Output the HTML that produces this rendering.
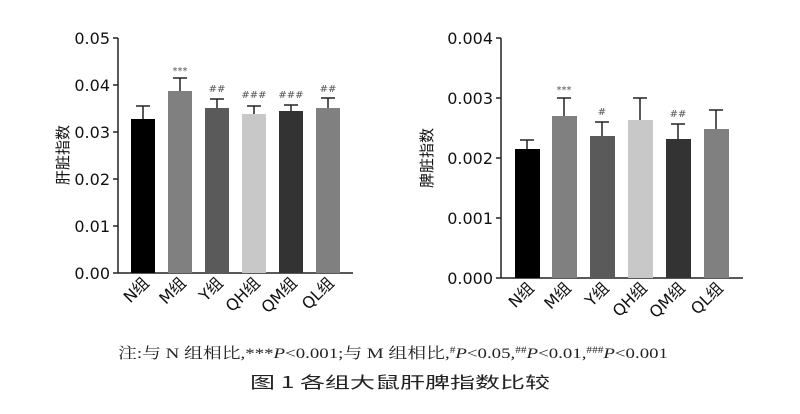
<!DOCTYPE html>
<html><head><meta charset="utf-8"><style>
body{margin:0;background:#fff;}
svg text{font-family:"DejaVu Sans","Liberation Sans","Noto Sans CJK SC",sans-serif;}
.cap{font-family:"Liberation Serif","Noto Serif CJK SC",serif !important;}
</style></head><body>
<svg width="800" height="409" viewBox="0 0 800 409" xmlns="http://www.w3.org/2000/svg">
<rect width="800" height="409" fill="#fff"/>
<g stroke="#222" stroke-width="1.5" fill="none">
<line x1="118" y1="38" x2="118" y2="273"/>
<line x1="118" y1="273" x2="353" y2="273"/>
<line x1="113" y1="38" x2="118" y2="38"/><line x1="113" y1="85" x2="118" y2="85"/><line x1="113" y1="132" x2="118" y2="132"/><line x1="113" y1="179" x2="118" y2="179"/><line x1="113" y1="226" x2="118" y2="226"/><line x1="113" y1="273" x2="118" y2="273"/>
</g>
<g font-size="16" fill="#111" text-anchor="end">
<text x="110" y="44">0.05</text><text x="110" y="91">0.04</text><text x="110" y="138">0.03</text><text x="110" y="185">0.02</text><text x="110" y="232">0.01</text><text x="110" y="279">0.00</text>
</g>
<text transform="translate(68,155) rotate(-90)" font-size="15" text-anchor="middle" fill="#111">肝脏指数</text>
<rect x="131" y="119" width="24" height="154" fill="#000"/>
<rect x="168" y="91" width="24" height="182" fill="#808080"/>
<rect x="205" y="108" width="24" height="165" fill="#5a5a5a"/>
<rect x="242" y="114" width="24" height="159" fill="#c8c8c8"/>
<rect x="279" y="111" width="24" height="162" fill="#333"/>
<rect x="316" y="108" width="24" height="165" fill="#808080"/>
<g stroke="#222" stroke-width="1.5">
<line x1="143" y1="119" x2="143" y2="106"/><line x1="136" y1="106" x2="150" y2="106"/>
<line x1="180" y1="91" x2="180" y2="78"/><line x1="173" y1="78" x2="187" y2="78"/>
<line x1="217" y1="108" x2="217" y2="99"/><line x1="210" y1="99" x2="224" y2="99"/>
<line x1="254" y1="114" x2="254" y2="106"/><line x1="247" y1="106" x2="261" y2="106"/>
<line x1="291" y1="111" x2="291" y2="105"/><line x1="284" y1="105" x2="298" y2="105"/>
<line x1="328" y1="108" x2="328" y2="98"/><line x1="321" y1="98" x2="335" y2="98"/>
</g>
<g font-size="10" fill="#555" text-anchor="middle">
<text x="180" y="74">***</text><text x="217" y="92">##</text><text x="254" y="98">###</text><text x="291" y="98">###</text><text x="328" y="92">##</text>
</g>
<g font-size="16" fill="#111" text-anchor="end">
<text transform="translate(150,284) rotate(-45)">N组</text>
<text transform="translate(187,284) rotate(-45)">M组</text>
<text transform="translate(224,284) rotate(-45)">Y组</text>
<text transform="translate(261,284) rotate(-45)">QH组</text>
<text transform="translate(298,284) rotate(-45)">QM组</text>
<text transform="translate(335,284) rotate(-45)">QL组</text>
</g>
<g stroke="#222" stroke-width="1.5" fill="none">
<line x1="501" y1="38" x2="501" y2="278"/>
<line x1="501" y1="278" x2="743" y2="278"/>
<line x1="496" y1="38" x2="501" y2="38"/><line x1="496" y1="98" x2="501" y2="98"/><line x1="496" y1="158" x2="501" y2="158"/><line x1="496" y1="218" x2="501" y2="218"/><line x1="496" y1="278" x2="501" y2="278"/>
</g>
<g font-size="16" fill="#111" text-anchor="end">
<text x="493" y="44">0.004</text><text x="493" y="104">0.003</text><text x="493" y="164">0.002</text><text x="493" y="224">0.001</text><text x="493" y="284">0.000</text>
</g>
<text transform="translate(432,158) rotate(-90)" font-size="15" text-anchor="middle" fill="#111">脾脏指数</text>
<rect x="515" y="149" width="25" height="129" fill="#000"/>
<rect x="552" y="116" width="25" height="162" fill="#808080"/>
<rect x="590" y="136" width="25" height="142" fill="#5a5a5a"/>
<rect x="628" y="120" width="25" height="158" fill="#c8c8c8"/>
<rect x="666" y="139" width="25" height="139" fill="#333"/>
<rect x="704" y="129" width="25" height="149" fill="#808080"/>
<g stroke="#222" stroke-width="1.5">
<line x1="527" y1="149" x2="527" y2="140"/><line x1="520" y1="140" x2="534" y2="140"/>
<line x1="564" y1="116" x2="564" y2="98"/><line x1="557" y1="98" x2="571" y2="98"/>
<line x1="602" y1="136" x2="602" y2="122"/><line x1="595" y1="122" x2="609" y2="122"/>
<line x1="640" y1="120" x2="640" y2="98"/><line x1="633" y1="98" x2="647" y2="98"/>
<line x1="678" y1="139" x2="678" y2="124"/><line x1="671" y1="124" x2="685" y2="124"/>
<line x1="716" y1="129" x2="716" y2="110"/><line x1="709" y1="110" x2="723" y2="110"/>
</g>
<g font-size="10" fill="#555" text-anchor="middle">
<text x="564" y="93">***</text><text x="602" y="115">#</text><text x="678" y="117">##</text>
</g>
<g font-size="16" fill="#111" text-anchor="end">
<text transform="translate(535,289) rotate(-45)">N组</text>
<text transform="translate(572,289) rotate(-45)">M组</text>
<text transform="translate(610,289) rotate(-45)">Y组</text>
<text transform="translate(648,289) rotate(-45)">QH组</text>
<text transform="translate(686,289) rotate(-45)">QM组</text>
<text transform="translate(724,289) rotate(-45)">QL组</text>
</g>
<text class="cap" x="393" y="358" font-size="15" text-anchor="middle" fill="#222" textLength="550" lengthAdjust="spacingAndGlyphs">注:与 N 组相比,***<tspan font-style="italic">P</tspan>&lt;0.001;与 M 组相比,<tspan font-size="9" dy="-5">#</tspan><tspan font-style="italic" dy="5">P</tspan>&lt;0.05,<tspan font-size="9" dy="-5">##</tspan><tspan font-style="italic" dy="5">P</tspan>&lt;0.01,<tspan font-size="9" dy="-5">###</tspan><tspan font-style="italic" dy="5">P</tspan>&lt;0.001</text>
<text x="400" y="388" font-size="16" text-anchor="middle" fill="#222" style="font-family:'Noto Sans CJK SC',sans-serif" textLength="300" lengthAdjust="spacingAndGlyphs">图 1  各组大鼠肝脾指数比较</text>
</svg>
</body></html>
